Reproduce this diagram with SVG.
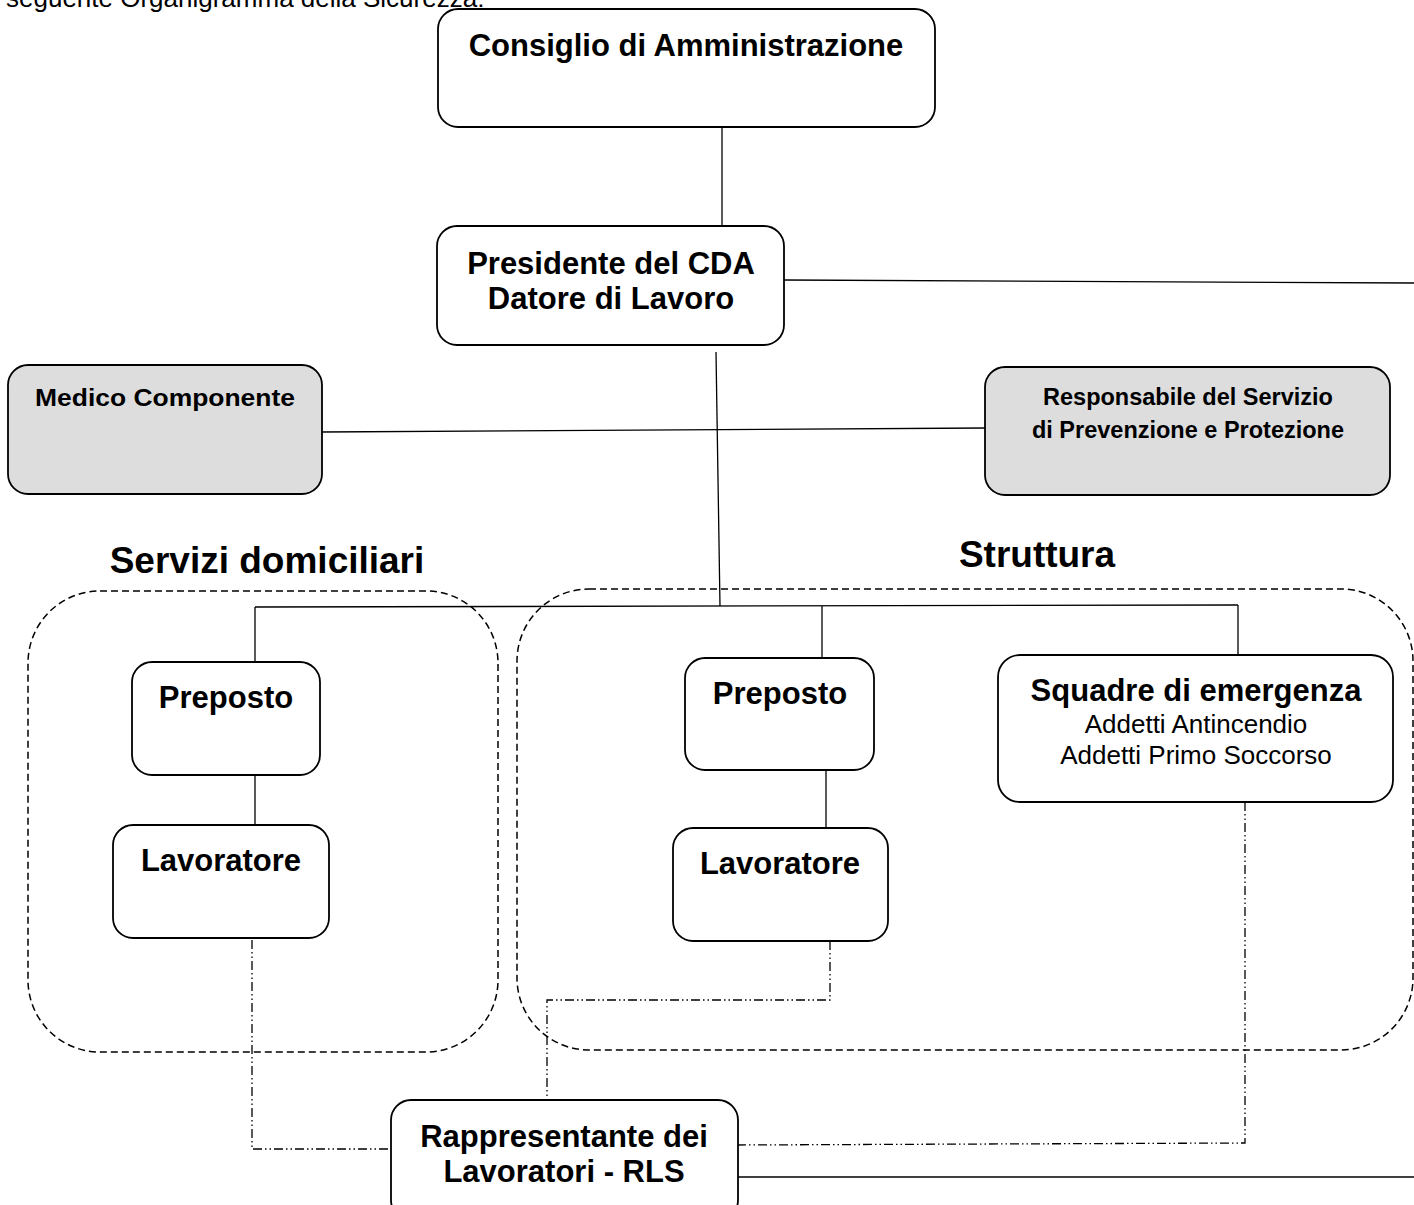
<svg xmlns="http://www.w3.org/2000/svg" width="1414" height="1205" viewBox="0 0 1414 1205">
<style>
.box{fill:#fff;stroke:#000;stroke-width:1.8}
.grey{fill:#dddddd;stroke:#000;stroke-width:1.8}
.t{font-family:"Liberation Sans",Arial,sans-serif;font-weight:bold;fill:#000;text-anchor:middle}
.r{font-family:"Liberation Sans",Arial,sans-serif;fill:#000;text-anchor:middle}
.ln{stroke:#000;stroke-width:1.3;fill:none}
.dd{stroke:#000;stroke-width:1.3;fill:none;stroke-dasharray:9 3 1.5 3 1.5 3}
.grp{fill:none;stroke:#000;stroke-width:1.5;stroke-dasharray:7 4}
</style>
<rect width="1414" height="1205" fill="#fff"/>
<text x="6" y="7" font-family="Liberation Sans, Arial, sans-serif" font-size="26" fill="#000">seguente Organigramma della Sicurezza:</text>

<g id="containers">
<rect class="grp" x="28" y="591" width="470" height="461" rx="72" ry="72"/>
<rect class="grp" x="517" y="589" width="896" height="461" rx="72" ry="72"/>
<text class="t" x="267" y="573" font-size="37">Servizi domiciliari</text>
<text class="t" x="1037" y="567" font-size="37">Struttura</text>
</g>

<g id="connectors">
<line class="ln" x1="722" y1="127" x2="722" y2="226"/>
<line class="ln" x1="784" y1="280" x2="1414" y2="283"/>
<line class="ln" x1="716" y1="352" x2="720" y2="606"/>
<line class="ln" x1="322" y1="432" x2="985" y2="428"/>
<line class="ln" x1="255" y1="607" x2="1238" y2="605"/>
<line class="ln" x1="255" y1="607" x2="255" y2="662"/>
<line class="ln" x1="822" y1="606" x2="822" y2="658"/>
<line class="ln" x1="1238" y1="605" x2="1238" y2="655"/>
<line class="ln" x1="255" y1="775" x2="255" y2="825"/>
<line class="ln" x1="826" y1="770" x2="826" y2="828"/>
<polyline class="dd" points="252,940 252,1149 391,1149"/>
<polyline class="dd" points="830,941 830,1000 547,1000 547,1096"/>
<polyline class="dd" points="1245,802 1245,1143 738,1145"/>
<line class="ln" x1="738" y1="1177" x2="1414" y2="1177"/>
</g>

<g id="consiglio">
<rect class="box" x="438" y="9" width="497" height="118" rx="20"/>
<text class="t" x="686" y="56" font-size="31">Consiglio di Amministrazione</text>
</g>
<g id="presidente">
<rect class="box" x="437" y="226" width="347" height="119" rx="20"/>
<text class="t" x="611" y="274" font-size="31">Presidente del CDA</text>
<text class="t" x="611" y="309" font-size="31">Datore di Lavoro</text>
</g>
<g id="medico">
<rect class="grey" x="8" y="365" width="314" height="129" rx="20"/>
<text class="t" x="165" y="406" font-size="24" textLength="260" lengthAdjust="spacingAndGlyphs">Medico Componente</text>
</g>
<g id="rspp">
<rect class="grey" x="985" y="367" width="405" height="128" rx="20"/>
<text class="t" x="1188" y="405" font-size="23.5">Responsabile del Servizio</text>
<text class="t" x="1188" y="438" font-size="23.5">di Prevenzione e Protezione</text>
</g>
<g id="preposto-sd">
<rect class="box" x="132" y="662" width="188" height="113" rx="20"/>
<text class="t" x="226" y="708" font-size="31">Preposto</text>
</g>
<g id="lavoratore-sd">
<rect class="box" x="113" y="825" width="216" height="113" rx="20"/>
<text class="t" x="221" y="871" font-size="31">Lavoratore</text>
</g>
<g id="preposto-st">
<rect class="box" x="685" y="658" width="189" height="112" rx="20"/>
<text class="t" x="780" y="704" font-size="31">Preposto</text>
</g>
<g id="lavoratore-st">
<rect class="box" x="673" y="828" width="215" height="113" rx="20"/>
<text class="t" x="780" y="874" font-size="31">Lavoratore</text>
</g>
<g id="squadre">
<rect class="box" x="998" y="655" width="395" height="147" rx="22"/>
<text class="t" x="1196" y="701" font-size="31">Squadre di emergenza</text>
<text class="r" x="1196" y="733" font-size="26">Addetti Antincendio</text>
<text class="r" x="1196" y="764" font-size="26">Addetti Primo Soccorso</text>
</g>
<g id="rls">
<rect class="box" x="391" y="1100" width="347" height="120" rx="20"/>
<text class="t" x="564" y="1147" font-size="31">Rappresentante dei</text>
<text class="t" x="564" y="1182" font-size="31">Lavoratori - RLS</text>
</g>
</svg>
